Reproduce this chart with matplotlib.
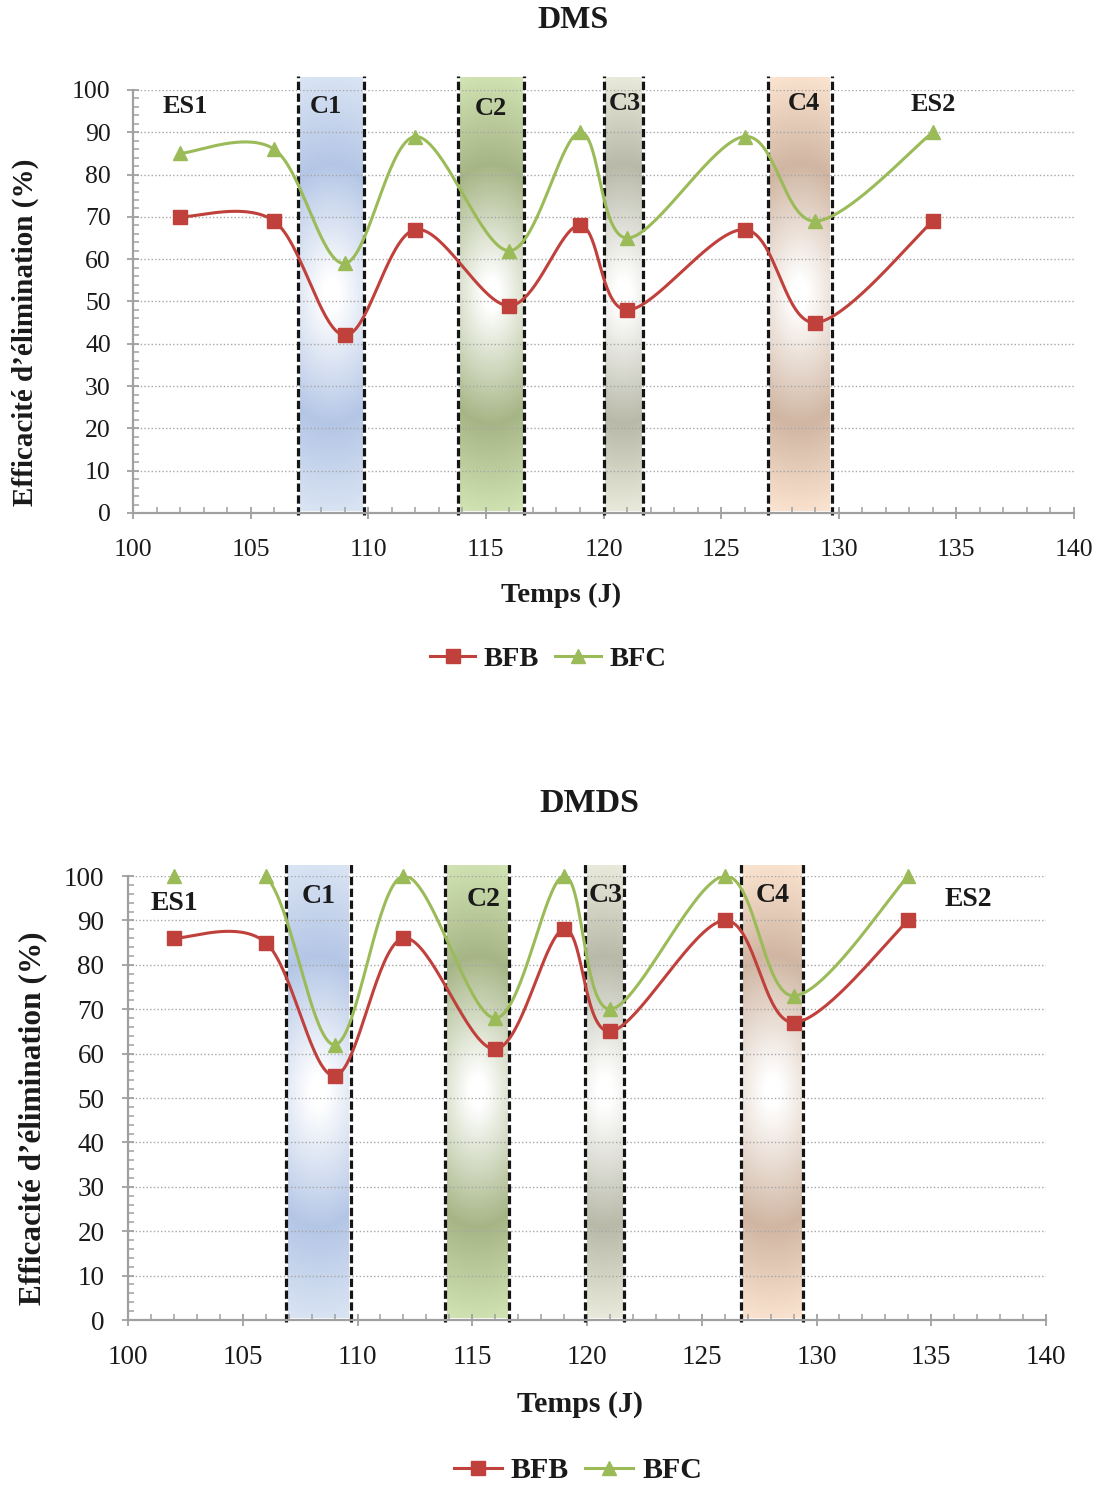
import numpy as np
import matplotlib
matplotlib.use("Agg")
import matplotlib.pyplot as plt
from matplotlib.lines import Line2D
from matplotlib.colors import to_rgb

plt.rcParams['font.family'] = ['Liberation Serif', 'DejaVu Serif']

# ---------------- data ----------------
days = [102, 106, 109, 112, 116, 119, 121, 126, 129, 134]

dms_bfb = [70, 69, 42, 67, 49, 68, 48, 67, 45, 69]
dms_bfc = [85, 86, 59, 89, 62, 90, 65, 89, 69, 90]

dmds_bfb = [86, 85, 55, 86, 61, 88, 65, 90, 67, 90]
dmds_bfc = [100, 100, 62, 100, 68, 100, 70, 100, 73, 100]

# phase bands (start, end) in days
dms_bands = [(107.0, 109.8), (113.8, 116.6), (120.0, 121.7), (127.0, 129.7)]
dmds_bands = [(106.9, 109.7), (113.8, 116.6), (119.9, 121.6), (126.7, 129.4)]
band_names = ['C1', 'C2', 'C3', 'C4']
band_dark = ['#b4c6e6', '#a6b585', '#b8b9a8', '#d0b6a2']
band_edge = ['#dce6f4', '#d4e6b6', '#efefe1', '#fde6d2']

phase_labels = ['ES1', 'C1', 'C2', 'C3', 'C4', 'ES2']
dms_label_x = [102.2, 108.2, 115.2, 120.9, 128.5, 134.0]
dms_label_y = [96.2, 96.2, 95.7, 96.7, 96.7, 96.5]
dmds_label_x = [102.0, 108.3, 115.5, 120.8, 128.1, 136.6]
dmds_label_y = [93.9, 95.3, 94.6, 95.7, 95.5, 94.6]

RED = '#c0403c'
GREEN = '#9bbb59'
GRID = '#a6a6a6'


def smooth(x, y, n=40):
    P = np.column_stack([x, y]).astype(float)
    out = []
    t = np.linspace(0, 1, n)[:, None]
    for i in range(len(P) - 1):
        p0 = P[i - 1] if i > 0 else P[i]
        p1 = P[i]
        p2 = P[i + 1]
        p3 = P[i + 2] if i + 2 < len(P) else P[i + 1]
        b1 = p1 + (p2 - p0) / 6.0
        b2 = p2 - (p3 - p1) / 6.0
        seg = ((1 - t) ** 3) * p1 + 3 * ((1 - t) ** 2) * t * b1 + 3 * (1 - t) * t ** 2 * b2 + t ** 3 * p2
        out.append(seg if i == 0 else seg[1:])
    s = np.vstack(out)
    return s[:, 0], s[:, 1]


def band_image(dark, edge, wpx, hpx, ny=300, nx=40):
    dark = np.array(to_rgb(dark))
    edge = np.array(to_rgb(edge))
    white = np.ones(3)
    yy = np.linspace(-1, 1, ny)[:, None]
    xx = np.linspace(-1, 1, nx)[None, :] * (wpx / hpx)
    r = np.sqrt((xx * 1.8) ** 2 + yy ** 2)
    stops = np.array([0.0, 0.07, 0.6, 1.05])
    cols = np.array([white, white, dark, edge])
    img = np.zeros((ny, nx, 3))
    for c in range(3):
        img[:, :, c] = np.interp(r, stops, cols[:, c])
    return img


def draw_panel(ax, bfb, bfc, bands, lab_x, lab_y, band_top, fs):
    ax.set_xlim(100, 140)
    ax.set_ylim(0, 100)
    bbox = ax.get_position()
    fig = ax.figure
    px_per_x = bbox.width * fig.get_figwidth() * fig.dpi / 40.0
    px_per_y = bbox.height * fig.get_figheight() * fig.dpi / 100.0
    for (x0, x1), dk, ed in zip(bands, band_dark, band_edge):
        img = band_image(dk, ed, (x1 - x0) * px_per_x, band_top * px_per_y)
        ax.imshow(img, extent=(x0 + 0.08, x1 - 0.08, 0.4, band_top), aspect='auto',
                  origin='lower', interpolation='bilinear', zorder=0.2, clip_on=False)
        for xe in (x0, x1):
            ax.plot([xe, xe], [-0.5, band_top + 0.3], color='#151515', lw=2.3,
                    dashes=(2.6, 1.1), zorder=2.5, clip_on=False,
                    dash_capstyle='butt')
    ax.set_xlim(100, 140)
    ax.set_ylim(0, 100)

    for gy in range(10, 101, 10):
        ax.plot([100, 140], [gy, gy], color=GRID, lw=1.0, ls=(0, (1, 1.6)), zorder=1.0)

    sx, sy = smooth(days, bfb)
    ax.plot(sx, sy, color=RED, lw=2.2, zorder=3)
    sx, sy = smooth(days, bfc)
    ax.plot(sx, sy, color=GREEN, lw=2.2, zorder=3)
    ax.plot(days, bfb, ls='none', marker='s', ms=10, color=RED, mec=RED, zorder=4, clip_on=False)
    ax.plot(days, bfc, ls='none', marker='^', ms=10.5, color=GREEN, mec=GREEN, zorder=4, clip_on=False)

    for t, x, y in zip(phase_labels, lab_x, lab_y):
        ax.text(x, y, t, ha='center', va='center', fontsize=fs['band'], fontweight='bold',
                color='#1a1a1a', zorder=5)

    for s in ('top', 'right'):
        ax.spines[s].set_visible(False)
    for s in ('left', 'bottom'):
        ax.spines[s].set_color('#a0a0a0')
        ax.spines[s].set_linewidth(1.6)
    ax.set_xticks(range(100, 141, 5))
    ax.set_xticks(range(100, 141, 1), minor=True)
    ax.set_yticks(range(0, 101, 10))
    ax.set_yticks(range(0, 101, 2), minor=True)
    ax.tick_params(which='major', direction='inout', length=8, width=1.3, color='#a0a0a0',
                   labelsize=fs['tick'], labelcolor='#1a1a1a')
    ax.tick_params(which='minor', direction='in', length=4.5, width=1.1, color='#a0a0a0')
    ax.tick_params(axis='x', which='major', pad=fs['xpad'])
    ax.tick_params(axis='y', which='major', pad=fs['ypad'])
    ax.set_facecolor('none')


fig = plt.figure(figsize=(11.03, 14.86), dpi=100)

ax1 = fig.add_axes([133 / 1103, 1 - 513 / 1486, (1074 - 133) / 1103, (513 - 90) / 1486])
ax2 = fig.add_axes([128 / 1103, 1 - 1320 / 1486, (1046 - 128) / 1103, (1320 - 876) / 1486])

fs_top = dict(title=23, xl=20.5, yl=21, leg=20.5, tick=18.5, band=19, xpad=14.5, ypad=12)
fs_bot = dict(title=24.5, xl=21.5, yl=22.5, leg=21.5, tick=19.5, band=20, xpad=14, ypad=13)

draw_panel(ax1, dms_bfb, dms_bfc, dms_bands, dms_label_x, dms_label_y, 103.0, fs_top)
draw_panel(ax2, dmds_bfb, dmds_bfc, dmds_bands, dmds_label_x, dmds_label_y, 102.3, fs_bot)

bold = dict(fontweight='bold', color='#1a1a1a')
ylab = 'Efficacité d\u2019élimination (%)'
fig.text(573 / 1103, 1 - 21 / 1486, 'DMS', ha='center', va='center', fontsize=fs_top['title'], **bold)
fig.text(589 / 1103, 1 - 804 / 1486, 'DMDS', ha='center', va='center', fontsize=fs_bot['title'], **bold)
fig.text(561 / 1103, 1 - 595 / 1486, 'Temps (J)', ha='center', va='center', fontsize=fs_top['xl'], **bold)
fig.text(580 / 1103, 1 - 1405 / 1486, 'Temps (J)', ha='center', va='center', fontsize=fs_bot['xl'], **bold)
fig.text(25 / 1103, 1 - 332 / 1486, ylab, ha='center', va='center', rotation=90, fontsize=fs_top['yl'], **bold)
fig.text(33 / 1103, 1 - 1118 / 1486, ylab, ha='center', va='center', rotation=90, fontsize=fs_bot['yl'], **bold)

handles = [Line2D([], [], color=RED, lw=2.2, marker='s', ms=10),
           Line2D([], [], color=GREEN, lw=2.2, marker='^', ms=10.5)]
for (cx, cy), fsz in [((548, 659), fs_top['leg']), ((578, 1471), fs_bot['leg'])]:
    leg = fig.legend(handles, ['BFB', 'BFC'], loc='center', bbox_to_anchor=(cx / 1103, 1 - cy / 1486),
                     ncol=2, frameon=False, handlelength=1.6, handletextpad=0.3, columnspacing=0.55,
                     prop={'family': 'Liberation Serif', 'weight': 'bold', 'size': fsz})
    for t in leg.get_texts():
        t.set_color('#1a1a1a')

fig.savefig('out.png', dpi=100)
